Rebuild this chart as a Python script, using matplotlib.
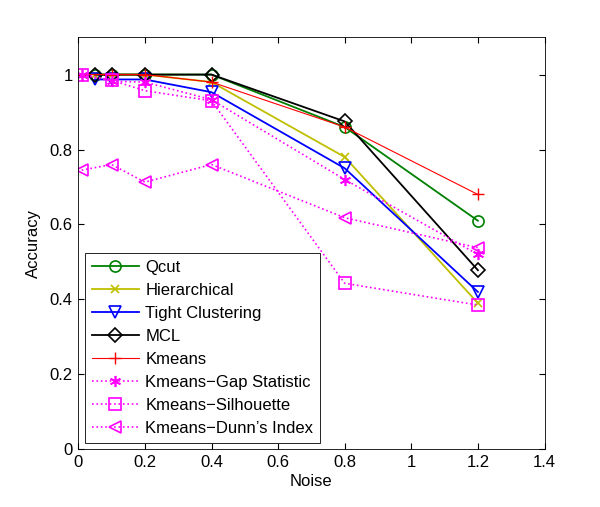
import numpy as np
import matplotlib.pyplot as plt

plt.rcParams['font.family'] = ['Liberation Sans', 'DejaVu Sans']

# noise levels
x_methods = [0.05, 0.1, 0.2, 0.4, 0.8, 1.2]
x_kmeans = [0.01, 0.1, 0.2, 0.4, 0.8, 1.2]

qcut = [1.0, 1.0, 1.0, 1.0, 0.86, 0.61]
hierarchical = [1.0, 1.0, 1.0, 0.98, 0.78, 0.39]
tight = [0.987, 0.987, 0.987, 0.953, 0.75, 0.42]
mcl = [1.0, 1.0, 1.0, 1.0, 0.875, 0.478]
kmeans = [1.0, 1.0, 1.0, 0.98, 0.86, 0.68]
kmeans_gap = [1.0, 0.982, 0.98, 0.933, 0.72, 0.52]
kmeans_sil = [1.0, 0.985, 0.957, 0.93, 0.443, 0.385]
kmeans_dunn = [0.745, 0.76, 0.713, 0.76, 0.618, 0.538]

fig = plt.figure(figsize=(6, 5.07), dpi=100)
ax = fig.add_axes([0.1305, 0.1138, 0.777, 0.813])

ax.plot(x_methods, qcut, '-o', color=(0, 0.5, 0), mfc='none', ms=8, lw=1.3, mew=1.2, label='Qcut')
ax.plot(x_methods, hierarchical, '-x', color=(0.75, 0.75, 0), ms=6, lw=1.3, mew=1.2, label='Hierarchical')
ax.plot(x_methods, tight, '-v', color='blue', mfc='none', ms=9, lw=1.3, mew=1.2, label='Tight Clustering')
ax.plot(x_methods, mcl, '-D', color='black', mfc='none', ms=7, lw=1.3, mew=1.2, label='MCL')
ax.plot(x_kmeans, kmeans, '-+', color='red', ms=9, lw=0.8, mew=1.0, label='Kmeans')
ax.plot(x_kmeans, kmeans_gap, ':', marker=(6, 2, 0), color='magenta', ms=8, lw=1.2, mew=1.2,
        label='Kmeans\u2212Gap Statistic')
ax.plot(x_kmeans, kmeans_sil, ':s', color='magenta', mfc='none', ms=8, lw=1.2, mew=1.2, label='Kmeans\u2212Silhouette')
ax.plot(x_kmeans, kmeans_dunn, ':<', color='magenta', mfc='none', ms=9, lw=1.2, mew=1.2, label="Kmeans\u2212Dunn\u2019s Index")

ax.set_xlim(0, 1.4)
ax.set_ylim(0, 1.1)
ax.set_xticks([0, 0.2, 0.4, 0.6, 0.8, 1, 1.2, 1.4])
ax.set_xticklabels(['0', '0.2', '0.4', '0.6', '0.8', '1', '1.2', '1.4'])
ax.set_yticks([0, 0.2, 0.4, 0.6, 0.8, 1])
ax.set_yticklabels(['0', '0.2', '0.4', '0.6', '0.8', '1'])
ax.tick_params(direction='in', top=True, right=True, labelsize=12, length=4, pad=4)
for s in ax.spines.values():
    s.set_linewidth(0.6)
ax.set_xlabel('Noise', fontsize=12, labelpad=3)
ax.set_ylabel('Accuracy', fontsize=12, labelpad=6)

leg = ax.legend(loc='lower left', fontsize=12, handlelength=2.8, handletextpad=0.4,
                borderpad=0.42, labelspacing=0.48, fancybox=False, framealpha=1,
                borderaxespad=0.4)
leg.get_frame().set_edgecolor('black')
leg.get_frame().set_linewidth(0.6)

fig.savefig('out.png', dpi=100)
